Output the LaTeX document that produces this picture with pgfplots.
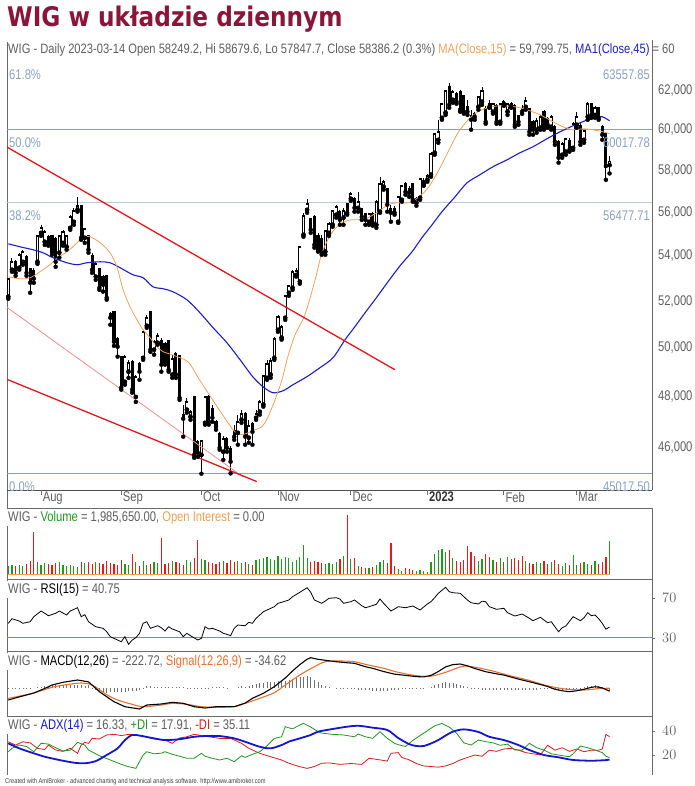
\documentclass[border=0pt]{standalone}
\usepackage{pgfplots}
\pgfplotsset{compat=1.18}
\usepackage{pgfplotstable}
\usepackage{fontspec}
\setmainfont{Liberation Sans}
\newfontfamily\cf[FakeStretch=0.8]{Liberation Sans}
\newfontfamily\hf[FakeStretch=0.82]{Liberation Sans}
\newfontfamily\tf[FakeStretch=0.86]{DejaVu Sans}
\newcommand\smf{\cf\fontsize{14}{16}\selectfont}
\definecolor{titlered}{HTML}{8B1538}
\definecolor{txtgray}{HTML}{5E5E5E}
\definecolor{axgray}{HTML}{6A6A6A}
\definecolor{maorange}{HTML}{F2A05A}
\definecolor{mablue}{HTML}{1C1CC8}
\definecolor{trendred}{HTML}{E3161C}
\definecolor{trendpink}{HTML}{F08C8C}
\definecolor{fibdark}{HTML}{8A9EB8}
\definecolor{fiblight}{HTML}{B9C9DB}
\definecolor{fibtext}{HTML}{8AA2BF}
\definecolor{volgreen}{HTML}{1E9B1E}
\definecolor{volred}{HTML}{E21B1B}
\definecolor{oiorange}{HTML}{F0A050}
\definecolor{rsiref}{HTML}{7C7CE0}
\definecolor{sigorange}{HTML}{E8702E}
\definecolor{histgray}{HTML}{707070}
\definecolor{adxblue}{HTML}{1414D2}
\definecolor{digreen}{HTML}{1E961E}
\definecolor{dired}{HTML}{E01818}

\pgfplotstableread{
i o h l c v
0 52190 53020 52100 52930 480000
1 53380 53920 53290 53690 540000
2 53690 53820 53110 53240 480000
3 53470 54140 53380 54000 540000
4 53730 54280 53600 54140 480000
5 53920 54050 53110 53240 600000
6 53380 53470 52360 52800 780000
7 53290 53470 52800 52980 2520000
8 53730 54960 53640 54870 720000
9 55050 55420 54910 55240 540000
10 54640 55190 54500 55050 660000
11 54820 54960 54460 54590 600000
12 54870 54960 54050 54190 540000
13 54730 54870 53510 53730 660000
14 54140 54960 53920 54870 720000
15 54590 55190 54460 55050 540000
16 54410 54960 54280 54870 480000
17 55280 55890 55190 55750 540000
18 55560 56210 55420 56030 480000
19 56120 56730 56030 56260 420000
20 56260 56360 54730 54820 720000
21 54820 55280 54590 55190 660000
22 54870 54960 54140 54280 720000
23 53960 54140 53240 53380 600000
24 53070 53730 52930 53600 720000
25 53380 53470 52490 52580 660000
26 53020 53150 52410 52710 600000
27 53070 53150 52060 52140 780000
28 51410 51540 50980 51280 660000
29 51490 51580 50090 50260 600000
30 50350 50470 49640 50050 540000
31 49590 49680 48290 48370 840000
32 48610 49720 48490 49590 600000
33 49020 49510 48770 49350 540000
34 49390 49510 48170 48290 1200000
35 48000 48900 47800 48770 720000
36 49310 49430 48690 49020 480000
37 49590 50770 49510 50640 780000
38 50940 51410 50850 51240 540000
39 51490 51580 49840 49930 600000
40 49930 50350 49720 50220 720000
41 50220 50640 50140 50470 660000
42 50260 50430 49020 49310 2160000
43 50140 50260 49310 49430 600000
44 50260 50350 49020 49100 660000
45 48900 49720 48770 49510 780000
46 49720 49840 48770 48900 720000
47 49640 49720 47880 47960 660000
48 47250 47690 46430 47130 540000
49 47490 47970 47370 47760 840000
50 47210 47490 47090 47370 720000
51 47960 48050 45620 45730 960000
52 46200 46310 45660 45810 2040000
53 45730 46310 45017.5 46230 900000
54 46970 48050 46900 47970 840000
55 47970 48090 46900 47010 720000
56 47490 47690 47010 47170 660000
57 46970 47090 46700 46820 600000
58 46510 46620 45930 46000 720000
59 45850 46470 45540 46310 780000
60 46310 46430 45850 46000 660000
61 45930 46080 45030 45470 840000
62 46620 46900 46310 46430 720000
63 46580 47290 46120 46970 780000
64 47090 47490 46970 47290 660000
65 47290 47410 46120 46430 720000
66 46390 47090 46200 46820 600000
67 46900 47010 46120 46620 540000
68 47170 47490 47090 47290 840000
69 47410 47880 47290 47760 900000
70 47690 48900 47610 48810 960000
71 48770 49510 48690 49310 1020000
72 48900 49590 48770 49430 900000
73 49590 50470 49510 50350 840000
74 50770 51410 50680 51280 1080000
75 50430 50980 50350 50850 900000
76 51280 52270 51190 52190 1020000
77 52360 52710 52230 52620 960000
78 52580 53380 52490 53240 720000
79 53150 53470 53070 53290 840000
80 52850 54460 52760 54370 1020000
81 54960 55980 54870 55790 1740000
82 56120 56640 55980 56360 960000
83 55650 55750 55050 55190 720000
84 55750 55890 54370 54500 780000
85 54870 55050 54190 54280 720000
86 54730 54960 54050 54140 660000
87 54190 55190 54050 55100 600000
88 55050 55560 54910 55420 660000
89 55420 56120 55330 56030 600000
90 55890 56360 55750 56210 720000
91 55980 56120 55420 55650 900000
92 55750 56210 55420 56030 1080000
93 56360 56400 55890 55980 3540000
94 56640 56970 56540 56830 900000
95 56590 56730 56030 56210 960000
96 56210 56970 56030 56450 480000
97 56120 56210 55650 55790 420000
98 55890 55980 55420 55650 360000
99 55560 55980 55420 55890 360000
100 55890 56030 55380 55510 420000
101 55420 56590 55280 56450 540000
102 56030 57690 55980 57300 720000
103 57210 57540 57070 57400 840000
104 57070 57160 56030 56360 660000
105 56120 56360 55560 55980 1860000
106 56120 56310 55890 55980 480000
107 55560 56780 55510 56690 300000
108 56590 57300 56500 57210 180000
109 57300 57450 56830 56970 360000
110 57070 57260 56730 56920 300000
111 57300 57400 56500 56590 240000
112 56450 56730 56310 56590 180000
113 56690 57640 56590 57540 240000
114 57350 57640 57260 57450 180000
115 57540 57830 57450 57690 120000
116 57790 58910 57690 58760 720000
117 58860 59850 58760 59750 1200000
118 59500 60500 59350 59850 1440000
119 60600 61370 60500 61260 1500000
120 60860 62040 60750 61930 1320000
121 62140 62400 61110 61260 1440000
122 61520 62040 61370 61880 960000
123 61780 61930 61320 61420 780000
124 61880 62040 60910 61010 720000
125 61680 61780 60810 60910 840000
126 61110 61520 60750 60910 1680000
127 60650 61010 60000 60500 1320000
128 60750 60910 60500 60650 1080000
129 61160 61730 61010 61620 780000
130 61420 62190 61260 61930 900000
131 61010 61210 60300 60400 1200000
132 61260 61520 61110 61160 1020000
133 60910 61370 60810 61260 840000
134 61160 61320 60300 60400 720000
135 60400 61370 60300 61260 960000
136 61370 61520 61210 61320 720000
137 60910 61370 60750 61260 1020000
138 61260 61420 61110 61210 900000
139 61160 61320 60150 60250 960000
140 60650 60750 60250 60400 840000
141 61010 61260 60800 60910 1080000
142 61160 61680 61010 61420 780000
143 61010 61110 59750 59900 660000
144 60350 60500 59750 60000 600000
145 60000 60600 59850 60400 720000
146 60100 60750 60000 60600 660000
147 60860 61010 60000 60100 780000
148 60500 60650 60100 60250 600000
149 60150 60750 60000 60600 720000
150 60100 60250 59250 59400 840000
151 59350 59500 58370 58610 600000
152 58760 59400 58610 59250 480000
153 58910 59600 58760 59500 660000
154 59400 59600 58910 59000 540000
155 59100 60400 59000 60250 1140000
156 60250 60910 60100 60600 540000
157 60150 60400 59250 59400 660000
158 59500 60000 59350 59900 720000
159 60650 61420 60500 61260 600000
160 61260 61370 60600 60750 540000
161 60750 61210 60600 61060 780000
162 61060 61160 60500 60600 600000
163 60100 60250 59500 59750 720000
164 59750 59900 57540 58210 1020000
165 58249.2 58679.6 57847.7 58386.2 1985650
}\ohlc

\pgfplotsset{
 panel/.style={scale only axis, width=645pt, xmin=-0.357, xmax=176.65,
   anchor=north west, axis line style={draw=none}, xtick=\empty,
   ytick style={draw=none}, yticklabel pos=right,
   yticklabel style={font=\smf, text=txtgray, anchor=west, inner sep=1pt},
   clip=true},
}
\tikzset{hdr/.style={anchor=base west, inner xsep=1pt, inner ysep=2pt, fill=white, font=\smf, text=txtgray}}

\begin{document}
\begin{tikzpicture}
\useasboundingbox (0,0) rectangle (694pt,-786pt);
% frame lines
\draw[axgray, line width=0.8pt] (7pt,-42pt) -- (7pt,-775pt);
\draw[axgray, line width=0.8pt] (652pt,-40pt) -- (652pt,-490pt);
\draw[axgray, line width=0.8pt] (652pt,-508pt) -- (652pt,-775pt);
\draw[black!70, line width=1pt] (7pt,-490pt) -- (652pt,-490pt);
\draw[axgray, line width=1pt] (7pt,-508pt) -- (652pt,-508pt);
\draw[axgray, line width=1pt] (7pt,-579pt) -- (652pt,-579pt);
\draw[axgray, line width=1pt] (7pt,-651pt) -- (652pt,-651pt);
\draw[axgray, line width=1pt] (7pt,-716pt) -- (652pt,-716pt);

% ---------------- price panel
\begin{axis}[panel, at={(7pt,-40pt)}, height=450pt, ymode=log, ymin=44414, ymax=64683,
  ytick={46000,48000,50000,52000,54000,56000,58000,60000,62000},
  yticklabels={{46,000},{48,000},{50,000},{52,000},{54,000},{56,000},{58,000},{60,000},{62,000}},
  xtick={9,31,53,74,94,115,136,156},
  xticklabels={Aug,Sep,Oct,Nov,Dec,\textbf{\color{black!80}2023},Feb,Mar},
  xtick pos=lower, tick align=outside, major tick length=5pt,
  xtick style={draw=axgray, line width=0.8pt},
  xticklabel style={font=\smf, text=txtgray, anchor=north west, inner sep=0pt, xshift=1.5pt, yshift=3pt},
]
\addplot[fiblight, line width=0.8pt] coordinates {(-1,56477.71) (178,56477.71)};
\addplot[fibdark, line width=1.3pt] coordinates {(-1,60017.78) (178,60017.78)};
\addplot[fibdark, line width=1.3pt] coordinates {(-1,45017.5) (178,45017.5)};
% wicks
\addplot[only marks, mark=none, error bars/.cd, y dir=plus, y explicit, error mark=none,
  error bar style={draw=black, line width=0.9pt}]
  table[x=i, y=l, y error expr=\thisrow{h}-\thisrow{l}] {\ohlc};
% bodies
\addplot[only marks, mark=none, error bars/.cd, y dir=plus, y explicit, error mark=none,
  error bar style={draw=black, line width=3.1pt, line cap=rect}]
  table[x=i, y expr={min(\thisrow{o},\thisrow{c})}, y error expr={abs(\thisrow{c}-\thisrow{o})}] {\ohlc};
% hollow interiors of rising candles
\addplot[only marks, mark=none, unbounded coords=discard, error bars/.cd, y dir=plus, y explicit, error mark=none,
  error bar style={draw=white, line width=1.6pt, line cap=butt}]
  table[x=i, y expr={\thisrow{c}>\thisrow{o} ? \thisrow{o} : nan}, y error expr={\thisrow{c}-\thisrow{o}}] {\ohlc};
% moving averages
\addplot[mablue, line width=1.1pt, smooth] coordinates {(0,54548)(3.2,54412)(6.8,54276)(9.5,54140)(12.3,53914)(16.1,53690)(18.9,53600)(21.6,53690)(25.2,53734)(27.9,53690)(30.7,53466)(34.2,53154)(37,53021)(39.7,52624)(42.5,52537)(45.2,52405)(49,52056)(52.6,51494)(56.2,50852)(60,50219)(63.6,49511)(67.1,48813)(69.9,48407)(72.6,48166)(75.4,48246)(78.1,48488)(81.9,48813)(85.5,49182)(89.1,49594)(92.4,50345)(95.1,50895)(97.9,51494)(100.6,52056)(104.2,52845)(107.5,53555)(110.8,54186)(113.5,54822)(116.3,55421)(119,56026)(122.6,56733)(125.9,57400)(129.4,57785)(133,58172)(136.9,58513)(140.4,58856)(144,59152)(147.8,59548)(151.4,59898)(155,60199)(158.3,60451)(161,60603)(163,60653)(165,60451)};
\addplot[maorange, line width=0.8pt, smooth] coordinates {(0,53066)(3.2,52977)(6,53021)(8.7,53288)(11.4,53600)(13.6,53914)(16.1,54186)(18.9,54594)(20.5,54868)(22.4,54868)(25.2,54594)(27.9,54140)(29.8,53511)(31.5,52493)(33.4,51753)(35.3,51194)(37,50768)(38.9,50430)(40.8,50052)(42.5,49844)(44.9,49719)(49.3,49429)(52.1,48773)(54.8,48166)(57.5,47565)(60.3,46973)(62.2,46621)(64.1,46505)(65.8,46582)(67.7,46699)(69.6,46817)(71.3,47209)(73.2,47884)(75.1,48691)(76.7,49636)(78.7,50556)(81.4,51408)(84.2,52933)(86.1,54140)(88.8,55052)(91.6,55514)(94.3,55653)(97.1,55653)(98.7,55746)(101.5,56026)(104.2,56355)(107,56449)(109.7,56449)(112.4,56685)(115.2,57160)(117.9,57930)(120.7,58905)(123.4,59848)(126.2,60501)(128.9,60906)(131.6,61110)(134.9,61213)(139.1,61162)(142.3,61008)(145.9,60754)(149.5,60400)(152.2,60149)(155,59998)(157.7,60048)(160.5,59998)(163.2,59898)(165,59799.75)};
% trend lines
\addplot[trendpink, line width=0.8pt] coordinates {(-0.4,51730) (64.4,44899)};
\addplot[trendred, line width=1.3pt] coordinates {(-0.4,59140) (106.1,49100)};
\addplot[trendred, line width=1.3pt] coordinates {(-0.4,48710) (68.2,44722)};
\end{axis}

% ---------------- volume panel
\begin{axis}[panel, at={(7pt,-508pt)}, height=71pt, ymin=-300000, ymax=3960000, ytick=\empty]
\addplot[ycomb, draw=volgreen, line width=1.2pt, mark=none, unbounded coords=discard]
  table[x=i, y expr={\thisrow{c}>=\thisrow{o} ? \thisrow{v} : nan}] {\ohlc};
\addplot[ycomb, draw=volred, line width=1.2pt, mark=none, unbounded coords=discard]
  table[x=i, y expr={\thisrow{c}<\thisrow{o} ? \thisrow{v} : nan}] {\ohlc};
\addplot[oiorange, line width=1pt] coordinates {(0,0) (165,0)};
\end{axis}

% ---------------- RSI panel
\begin{axis}[panel, at={(7pt,-579pt)}, height=72pt, ymin=16.7, ymax=88.7, ytick={30,70},
  ytick pos=right, tick align=outside, major tick length=3pt, ytick style={draw=axgray},
  yticklabel style={xshift=6pt}]
\addplot[rsiref, line width=1.2pt] coordinates {(-1,30) (178,30)};
\addplot[black, line width=0.8pt] coordinates {(0,44.4)(1,49)(3,46.7)(4,44.4)(6,46)(7,51)(9,56.7)(10,54.4)(11,52)(13,54.4)(14,56.7)(16,52.7)(17,56.7)(19,60)(20,51)(21,53)(22,46)(24,41)(26,39.4)(27,36)(28,31)(30,27.7)(31,26)(32,31)(33,23.4)(34,27.7)(35,30)(36,34.4)(37,44.4)(38,46)(39,39.4)(41,42)(42,40)(43,36.7)(44,41)(45,38.7)(47,36)(48,31)(49,34.4)(50,32)(52,27.7)(53,29.4)(54,41)(55,38.7)(56,39.4)(58,36.7)(59,34.4)(60,33.4)(61,32)(62,39.4)(63,42.7)(65,42)(66,45.4)(67,44.4)(68,49.4)(70,56)(71,57.7)(73,61)(74,64.4)(75,65.4)(77,67.7)(78,71)(80,75.4)(81,77.7)(82,80)(83,75.4)(84,67.7)(86,64.4)(87,66.7)(88,69.4)(90,70)(91,68.7)(92,64.4)(94,66)(95,67.7)(97,62)(98,60)(99,61)(101,63.4)(102,68.7)(103,64.4)(105,56.7)(106,58.7)(107,61)(109,60)(111,61.7)(113,57.7)(115,63.7)(116,66)(117,70)(118,74.4)(120,80.4)(121,76)(122,75)(124,74.4)(126,67.7)(127,65)(129,63.7)(130,66.5)(131,66)(132,61)(134,58.4)(136,59.4)(137,55)(139,51.7)(141,53.7)(143,49.4)(144,47)(146,50.4)(148,45)(149,46)(151,36)(152,40)(153,41.7)(155,51)(156,49)(157,47)(158,50)(159,55)(160,52)(161,52.7)(162,49)(163,44.4)(164,38.5)(165,40.75)};
\end{axis}

% ---------------- MACD panel
\begin{axis}[panel, at={(7pt,-651pt)}, height=65pt, ymin=-1840, ymax=2385, ytick=\empty]
\addplot[ycomb, histgray, line width=0.6pt, mark=none] coordinates {(0,-110)(1,-90)(2,-70)(3,-50)(4,-40)(5,-25)(6,-10)(7,0)(8,30)(9,60)(10,80)(11,110)(12,150)(13,150)(14,150)(15,160)(16,160)(17,170)(18,180)(19,195)(20,150)(21,120)(22,150)(23,-50)(24,-150)(25,-260)(26,-300)(27,-330)(28,-300)(29,-250)(30,-270)(31,-260)(32,-250)(33,-230)(34,-230)(35,-200)(36,-160)(37,-80)(38,80)(39,80)(40,70)(41,60)(42,65)(43,65)(44,70)(45,65)(46,40)(47,20)(48,50)(49,-30)(50,-80)(51,-60)(52,-70)(53,-60)(54,-60)(55,-30)(56,20)(57,40)(58,30)(59,20)(60,10)(61,0)(62,0)(63,60)(64,100)(65,15)(66,100)(67,200)(68,250)(69,320)(70,330)(71,350)(72,370)(73,390)(74,420)(75,450)(76,455)(77,520)(78,580)(79,620)(80,675)(81,700)(82,750)(83,720)(84,480)(85,400)(86,200)(87,100)(88,50)(89,0)(90,-30)(91,-80)(92,-80)(93,-90)(94,-95)(95,-105)(96,-120)(97,-140)(98,-155)(99,-180)(100,-200)(101,-210)(102,-210)(103,-210)(104,-190)(105,-160)(106,-140)(107,-120)(108,-100)(109,-80)(110,-70)(111,-60)(112,-60)(113,-50)(114,-40)(115,0)(116,50)(117,150)(118,250)(119,300)(120,350)(121,300)(122,280)(123,250)(124,190)(125,100)(126,20)(127,-20)(128,-50)(129,-100)(130,-120)(131,-150)(132,-170)(133,-180)(134,-170)(135,-160)(136,-150)(137,-140)(138,-140)(139,-150)(140,-150)(141,-150)(142,-140)(143,-140)(144,-130)(145,-120)(146,-100)(147,-70)(148,-40)(149,-100)(150,-150)(151,-170)(152,-170)(153,-170)(154,-150)(155,-100)(156,-60)(157,-20)(158,50)(159,100)(160,130)(161,150)(162,100)(163,40)(164,-60)(165,-188)};
\addplot[sigorange, line width=1.1pt, smooth] coordinates {(0,-690)(3,-550)(7,-345)(12,25)(16,200)(20,305)(23,175)(27,-450)(30,-800)(34,-1080)(37,-1235)(42,-1125)(45,-1015)(49,-1080)(53,-1235)(57,-1275)(62,-1235)(65,-1015)(69,-690)(73,-325)(76,175)(80,825)(84,1365)(87,1690)(91,1735)(95,1690)(98,1520)(103,1260)(107,1000)(112,780)(116,750)(120,1000)(124,1350)(126,1400)(129,1290)(133,1080)(138,760)(143,470)(148,120)(153,-90)(158,-150)(162,-60)(165,-34.62)};
\addplot[black, line width=1.1pt] coordinates {(0,-800)(3,-600)(7,-345)(10,-50)(12,175)(15,350)(19,500)(22,380)(25,-260)(29,-910)(32,-1235)(36,-1385)(38,-1125)(42,-1060)(45,-950)(48,-1015)(51,-1235)(54,-1320)(57,-1235)(60,-1235)(62,-1235)(65,-1000)(67,-690)(70,-365)(73,65)(76,630)(78,1085)(80,1500)(82,1850)(83,1950)(85,1845)(88,1750)(90,1690)(93,1620)(95,1585)(98,1365)(100,1260)(103,1050)(106,880)(109,800)(112,720)(114,700)(116,800)(118,1050)(120,1350)(122,1500)(124,1540)(126,1420)(128,1250)(131,1040)(134,900)(136,820)(140,560)(144,330)(148,80)(150,-100)(152,-200)(154,-260)(156,-200)(158,-100)(160,20)(161,60)(162,40)(163,-20)(164,-120)(165,-222.72)};
\end{axis}

% ---------------- ADX panel
\begin{axis}[panel, at={(7pt,-716pt)}, height=57pt, ymin=5.19, ymax=52.1, ytick={20,40},
  ytick pos=right, tick align=outside, major tick length=3pt, ytick style={draw=axgray},
  yticklabel style={xshift=6pt}]
\addplot[dired, line width=0.8pt] coordinates {(0,30.9)(2,28.2)(4,30.9)(6,30)(8,25.5)(10,24.5)(11,28.2)(13,24.1)(15,23)(17,25.5)(19,21.4)(20,28.2)(21,30.4)(22,29.6)(23,33.7)(25,33.2)(27,36.5)(29,37)(31,36)(33,37)(35,36.5)(37,35.5)(40,33.2)(43,32.3)(45,29.6)(47,34)(49,35)(51,37)(54,35.5)(58,33.7)(61,33.7)(64,29.6)(66,25.5)(69,21.4)(72,18.6)(75,15.9)(77,13.2)(80,10.4)(82,9)(84,10.5)(86,13.2)(88,13.5)(91,12.3)(94,13)(97,12.3)(99,17.3)(102,16)(104,15)(105,21.4)(107,22)(108,18)(110,16)(112,13)(114,11)(116,10.5)(118,10)(120,11)(122,13)(124,15.9)(126,18)(128,20)(130,19)(132,24)(134,23)(136,25)(138,25.5)(140,24)(142,22)(144,21)(146,20)(148,28)(150,24)(152,26)(154,23)(156,25)(158,22.7)(160,24)(162,24)(163,25)(164,37)(165,35.11)};
\addplot[digreen, line width=0.8pt] coordinates {(0,22.7)(1,25.5)(3,28.2)(5,27)(7,22.7)(9,29.6)(11,29)(13,26)(15,23.3)(17,24)(19,30.4)(21,28.2)(22,24.1)(25,19.4)(28,15.9)(31,12.3)(33,10.4)(35,9)(37,20)(38,22.7)(40,21)(42,21.5)(43,22.7)(45,20.6)(47,19)(49,17.3)(51,17.3)(53,21.4)(54,19)(56,17.3)(58,15.9)(60,17.3)(62,14.5)(64,19.4)(65,18)(67,20.6)(69,22.7)(71,27.6)(73,33.7)(75,35)(76,43.3)(78,41.5)(80,44.7)(81,46.1)(83,43)(85,39.2)(86,38)(89,37)(92,36.5)(95,35)(96,37.3)(98,35)(100,33.7)(102,39.2)(104,33.7)(106,29.6)(107,28.5)(109,27)(111,32)(113,36)(115,40)(117,44)(119,46)(121,43)(123,38)(125,30)(127,28.2)(129,32.3)(131,31)(133,30)(135,28)(137,29)(139,24.1)(141,24)(143,29.6)(145,26)(147,24)(149,21)(151,20)(153,19)(154,18.6)(155,21)(157,27.4)(159,26)(161,24)(163,22)(164,19)(165,17.91)};
\addplot[adxblue, line width=1.8pt, smooth] coordinates {(0,29.6)(3,25.5)(7,21.4)(10,18.6)(14,15.9)(18,13.7)(21,13.2)(24,15)(27,20)(30,25.5)(32,32.3)(34,36.5)(36,36)(40,33.7)(43,32.3)(47,33)(51,35)(54,35.6)(58,35.6)(62,33.7)(65,30.9)(69,26.8)(72,25.5)(75,28.2)(77,31)(80,33.7)(83,36.5)(85,39.2)(89,41.4)(93,43.3)(96,44.1)(100,42.5)(104,40.6)(107,34)(110,29)(112,27.4)(114,27.4)(116,29.5)(118,32.3)(120,36)(122,39.2)(125,41.1)(129,39)(132,35)(136,32.3)(140,28.2)(143,24.1)(147,20)(151,18.1)(155,15.9)(160,15.3)(164,15.8)(165,16.33)};
\end{axis}

% ---------------- texts
\node[anchor=base west, inner sep=0pt] at (7pt,-27pt)
  {\tf\bfseries\fontsize{27}{30}\selectfont\color{titlered}WIG w układzie dziennym};
\node[anchor=base west, inner sep=0pt, font=\hf\fontsize{13.6}{16}\selectfont, text=txtgray] at (8pt,-54pt)
  {WIG - Daily 2023-03-14 Open 58249.2, Hi 58679.6, Lo 57847.7, Close 58386.2 (0.3\%) \textcolor{maorange}{MA(Close,15)} = 59,799.75, \textcolor{mablue}{MA1(Close,45)} = 60};
\node[hdr] at (7pt,-521pt) {WIG - \textcolor{volgreen}{Volume} = 1,985,650.00, \textcolor{oiorange}{Open Interest} = 0.00};
\node[hdr] at (7pt,-593pt) {WIG - \textcolor{black}{RSI(15)} = 40.75};
\node[hdr] at (7pt,-665pt) {WIG - \textcolor{black}{MACD(12,26)} = -222.72, \textcolor{sigorange}{Signal(12,26,9)} = -34.62};
\node[hdr] at (7pt,-729pt) {WIG - \textcolor{adxblue}{ADX(14)} = 16.33, \textcolor{digreen}{+DI} = 17.91, \textcolor{dired}{-DI} = 35.11};

\begin{scope}[every node/.style={font=\smf, text=fibtext, inner sep=0pt}]
\node[anchor=west] at (9pt,-75pt) {61.8\%};
\node[anchor=west] at (9pt,-143pt) {50.0\%};
\node[anchor=west] at (9pt,-216pt) {38.2\%};
\node[anchor=west] at (9pt,-487pt) {0.0\%};
\node[anchor=east] at (650pt,-75pt) {63557.85};
\node[anchor=east] at (650pt,-143pt) {60017.78};
\node[anchor=east] at (650pt,-216pt) {56477.71};
\node[anchor=east] at (650pt,-487pt) {45017.50};
\end{scope}

\node[anchor=base west, inner sep=0pt] at (5pt,-783pt)
  {\cf\fontsize{7.1}{8}\selectfont\color{black!75}Created with AmiBroker - advanced charting and technical analysis software. http://www.amibroker.com};
\end{tikzpicture}
\end{document}
